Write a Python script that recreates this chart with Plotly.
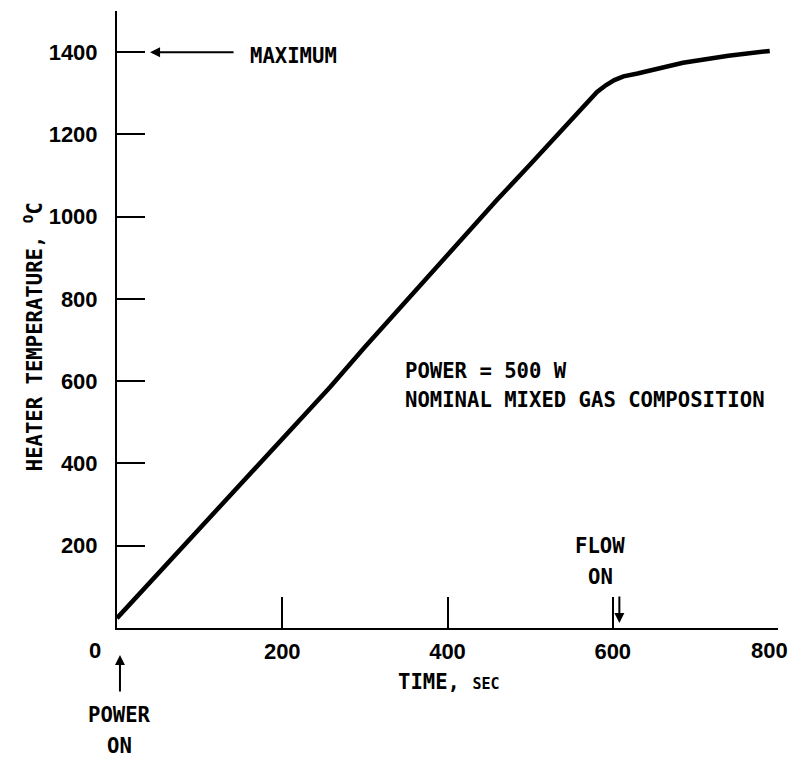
import plotly.graph_objects as go

# Data
time_s = [0, 100, 200, 258, 300, 351, 400, 460, 500, 581, 592, 602, 613, 630, 685, 740, 790]
temp_c = [24, 243, 462, 586, 683, 798, 907, 1041, 1127, 1303, 1320, 1332, 1341, 1348, 1374, 1391, 1403]

x_ticks = [200, 400, 600, 800]
x_tick_text = ["200", "400", "600", ""]
y_ticks = [200, 400, 600, 800, 1000, 1200, 1400]

MONO = "DejaVu Sans Mono"
NUM = "Liberation Sans"

fig = go.Figure()
fig.add_trace(go.Scatter(
    x=time_s, y=temp_c, mode="lines",
    line=dict(color="black", width=4.5),
    cliponaxis=False, hoverinfo="skip", showlegend=False,
))

# page body has an 8px margin: figure is sized/offset to compensate
fig.update_layout(
    width=789, height=751,
    margin=dict(l=109, r=19, t=3, b=131, autoexpand=False),
    plot_bgcolor="white", paper_bgcolor="white",
    showlegend=False,
    xaxis=dict(
        range=[0, 800], showgrid=False, zeroline=False,
        showline=True, linecolor="black", linewidth=2,
        ticks="inside", ticklen=31, tickwidth=2, tickcolor="black",
        tickvals=x_ticks, ticktext=x_tick_text,
        tickfont=dict(family=NUM, size=22, color="black", weight="bold"),
        ticklabelstandoff=3,
    ),
    yaxis=dict(
        range=[0, 1500], showgrid=False, zeroline=False,
        showline=True, linecolor="black", linewidth=2,
        ticks="inside", ticklen=28, tickwidth=2, tickcolor="black",
        tickvals=y_ticks, ticktext=[str(v) for v in y_ticks],
        tickfont=dict(family=NUM, size=22, color="black", weight="bold"),
        ticklabelstandoff=13,
    ),
)

num_font = dict(family=NUM, size=22, color="black", weight="bold")
txt = dict(family=MONO, size=20.6, color="black", weight="bold")
ann = []
# "0" and "800" labels (offset from their ticks as in the original)
ann.append(dict(x=-0.0333, y=-0.0357, xref="paper", yref="paper", text="0", showarrow=False,
                xanchor="center", yanchor="middle", font=num_font))
ann.append(dict(x=790, y=-0.0357, xref="x", yref="paper", text="800", showarrow=False,
                xanchor="center", yanchor="middle", font=num_font))
# MAXIMUM arrow and text
ann.append(dict(x=40, y=1400, xref="x", yref="y", text="", showarrow=True,
                ax=85, ay=0, arrowhead=2, arrowsize=1, arrowwidth=2, arrowcolor="black"))
ann.append(dict(x=158, y=1400, xref="x", yref="y", text="MAXIMUM", showarrow=False,
                xanchor="left", yanchor="middle", yshift=-4, font=txt))
# POWER ON
ann.append(dict(x=3.6, y=-0.0438, xref="x", yref="paper", text="", showarrow=True,
                ax=0, ay=38, arrowhead=2, arrowsize=1, arrowwidth=2, arrowcolor="black"))
ann.append(dict(x=3.6, y=-0.141, xref="x", yref="paper", text="POWER", showarrow=False,
                xanchor="center", yanchor="middle", font=txt))
ann.append(dict(x=3.6, y=-0.191, xref="x", yref="paper", text="ON", showarrow=False,
                xanchor="center", yanchor="middle", font=txt))
# FLOW ON
ann.append(dict(x=585, y=200, xref="x", yref="y", text="FLOW", showarrow=False,
                xanchor="center", yanchor="middle", font=txt))
ann.append(dict(x=585, y=124, xref="x", yref="y", text="ON", showarrow=False,
                xanchor="center", yanchor="middle", font=txt))
ann.append(dict(x=608, y=12, xref="x", yref="y", text="", showarrow=True,
                ax=0, ay=-28, arrowhead=2, arrowsize=1, arrowwidth=2, arrowcolor="black"))
# Condition text
ann.append(dict(x=346, y=625, xref="x", yref="y", text="POWER = 500 W", showarrow=False,
                xanchor="left", yanchor="middle", font=txt))
ann.append(dict(x=346, y=554, xref="x", yref="y", text="NOMINAL MIXED GAS COMPOSITION",
                showarrow=False, xanchor="left", yanchor="middle", font=txt))
# Axis titles
ann.append(dict(x=402, y=-0.0875, xref="x", yref="paper",
                text="TIME, <span style='font-size:15px'>SEC</span>",
                showarrow=False, xanchor="center", yanchor="middle", font=txt))
ann.append(dict(x=-0.127, y=707, xref="paper", yref="y",
                text="HEATER TEMPERATURE, <sup>O</sup>C", textangle=-90,
                showarrow=False, xanchor="center", yanchor="middle", font=txt))

fig.update_layout(annotations=ann)
fig.write_html("out.html")
